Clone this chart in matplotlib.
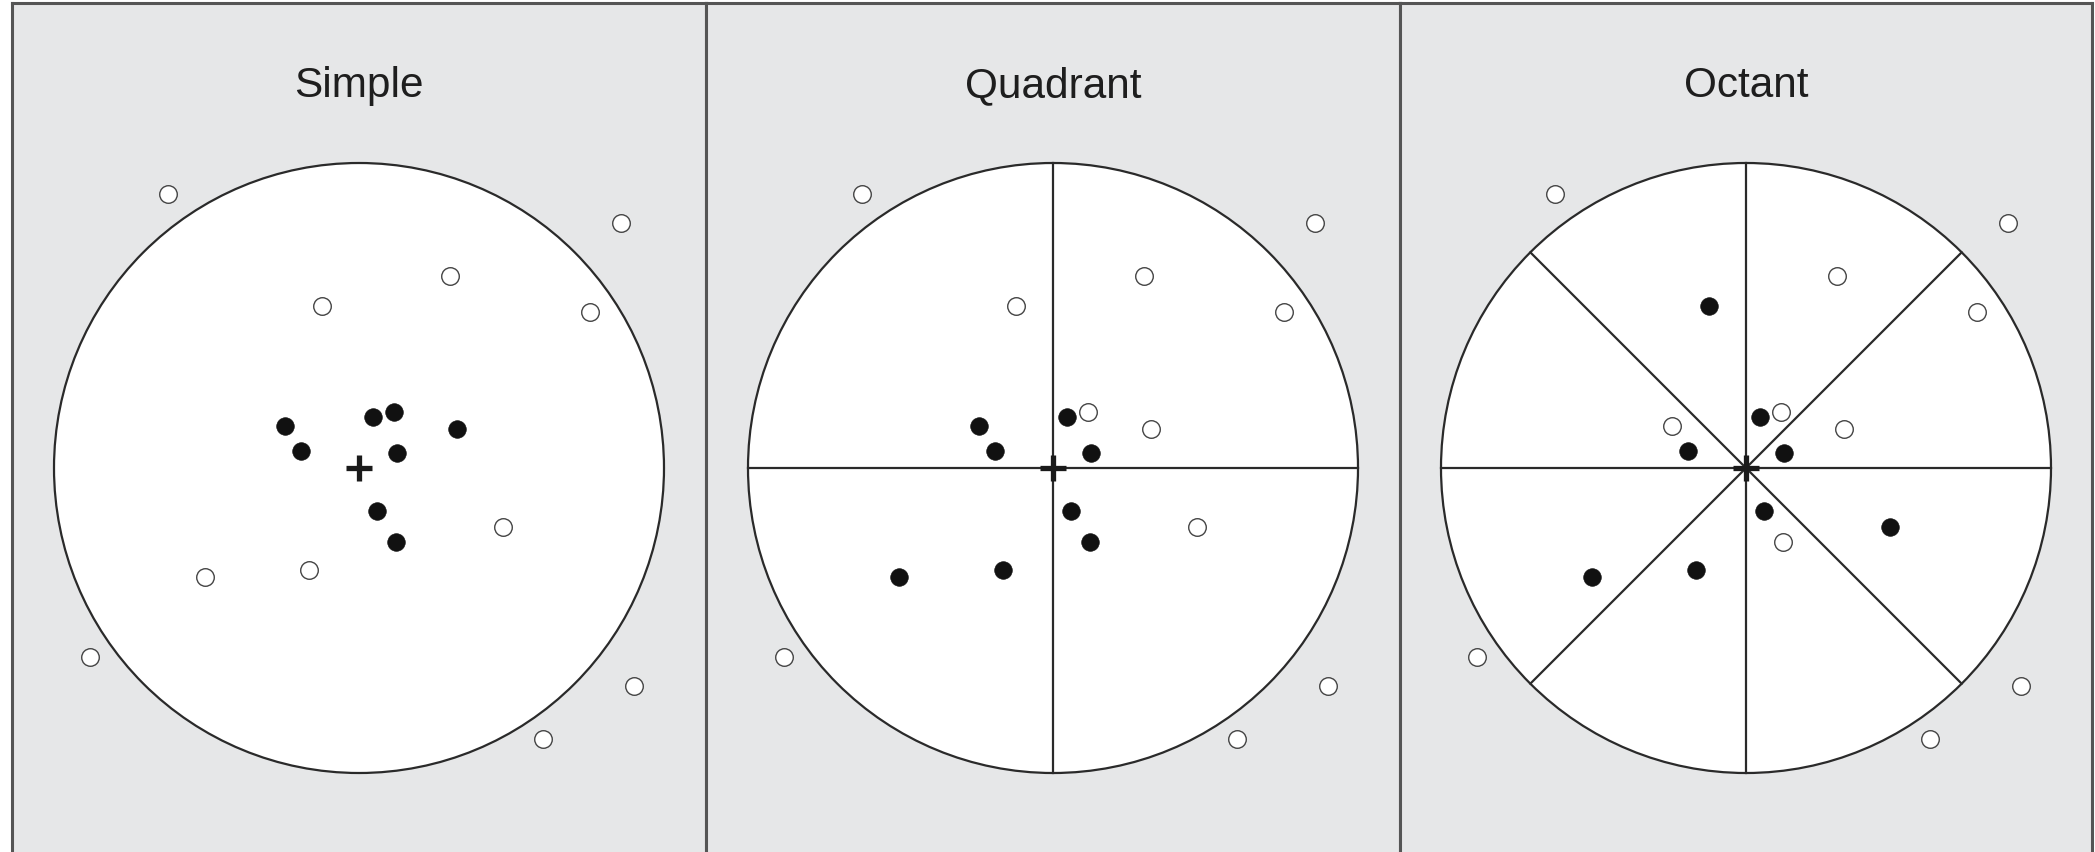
import matplotlib
matplotlib.use("Agg")
import matplotlib.pyplot as plt
import numpy as np
from matplotlib.patches import Circle

# ---- data ----
titles = ["Simple", "Quadrant", "Octant"]
# point positions relative to the query point (circle radius = 1)
pt_x = [-0.626, 0.860, 0.299, -0.121, 0.756, 0.473, -0.506, -0.163, -0.882, 0.900, 0.603,
        -0.241, -0.191, 0.047, 0.115, 0.320, 0.123, 0.060, 0.121]
pt_y = [0.899, 0.803, 0.631, 0.530, 0.512, -0.192, -0.357, -0.335, -0.621, -0.715, -0.888,
        0.139, 0.057, 0.166, 0.183, 0.128, 0.048, -0.140, -0.244]
# indices of selected (filled) neighbours in each panel
selected_simple = [11, 12, 13, 14, 15, 16, 17, 18]
selected_quadrant = [11, 12, 13, 16, 17, 18, 6, 7]
selected_octant = [3, 13, 12, 16, 17, 5, 6, 7]
selections = [selected_simple, selected_quadrant, selected_octant]
sector_angles = [[], [0, 90], [0, 45, 90, 135]]

W, H, DPI = 2095, 853, 100
BG = "#e6e7e8"
EDGE = "#555555"
DARK = "#2a2a2a"
R_PX = 305.0
panel_left = [12, 706, 1400]
panel_right = [706, 1400, 2092]
top_px = 4
center_y_px = 469
title_base_px = 97

fig = plt.figure(figsize=(W / DPI, H / DPI), dpi=DPI)
fig.patch.set_facecolor("white")

px = np.array(pt_x)
py = np.array(pt_y)

for i in range(3):
    l, r = panel_left[i], panel_right[i]
    ax = fig.add_axes([l / W, 0, (r - l) / W, (H - top_px) / H])
    ax.set_facecolor(BG)
    half_w = (r - l) / 2 / R_PX
    ax.set_xlim(-half_w, half_w)
    ax.set_ylim(-(H - center_y_px) / R_PX, (center_y_px - top_px) / R_PX)
    ax.set_xticks([])
    ax.set_yticks([])
    for s in ["top", "left", "right"]:
        ax.spines[s].set_color(EDGE)
        ax.spines[s].set_linewidth(2.2)
    ax.spines["bottom"].set_visible(False)

    ax.add_patch(Circle((0, 0), 1.0, facecolor="white", edgecolor=DARK, lw=1.6, zorder=1))
    for a in sector_angles[i]:
        t = np.deg2rad(a)
        ax.plot([-np.cos(t), np.cos(t)], [-np.sin(t), np.sin(t)], color=DARK, lw=1.6, zorder=2)

    sel = np.zeros(len(px), dtype=bool)
    sel[selections[i]] = True
    ax.scatter(px[~sel], py[~sel], s=160, facecolor="white", edgecolor="#444444",
               linewidths=1.0, zorder=3)
    ax.scatter(px[sel], py[sel], s=160, facecolor="#111111", edgecolor="#111111",
               linewidths=0.5, zorder=4)
    ax.plot([0], [0], marker="+", ms=19, mew=3.8, color="#1a1a1a", zorder=5)

    ax.text(0, (center_y_px - title_base_px) / R_PX, titles[i], ha="center", va="baseline",
            fontsize=30.5, family=["Liberation Sans", "DejaVu Sans"], color="#1e1e1e")

fig.savefig("out.png", dpi=DPI, facecolor="white")
